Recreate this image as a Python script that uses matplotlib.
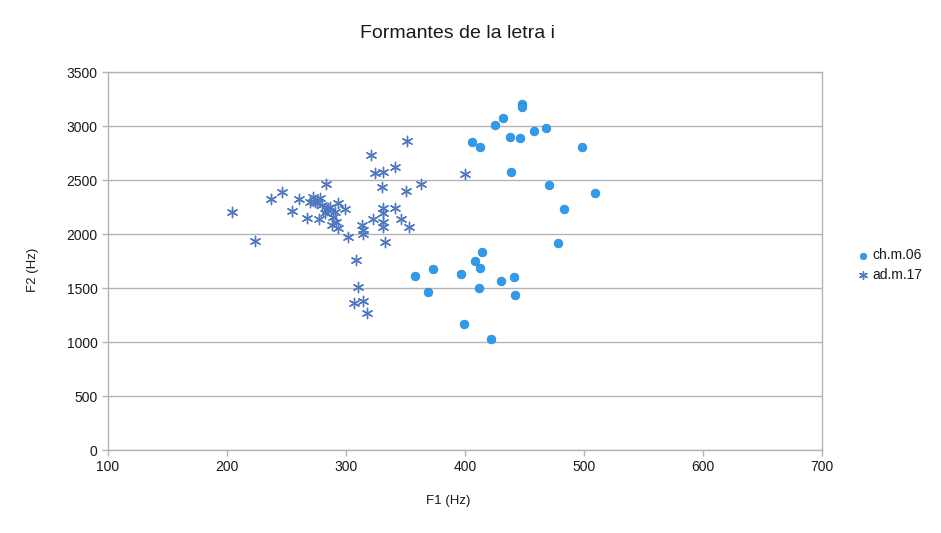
import matplotlib
matplotlib.use("Agg")
import matplotlib.pyplot as plt

plt.rcParams['font.family'] = ['Liberation Sans', 'DejaVu Sans']

title = "Formantes de la letra i"
xlabel = "F1 (Hz)"
ylabel = "F2 (Hz)"
series_names = ["ch.m.06", "ad.m.17"]

ch_f1 = [448, 448, 432, 425, 438, 446, 458, 468, 406, 413, 498, 439, 471, 509,
         483, 478, 414, 408, 413, 373, 358, 397, 369, 412, 430, 441, 442, 399, 422]
ch_f2 = [3200, 3180, 3071, 3006, 2898, 2886, 2951, 2984, 2849, 2809, 2809, 2574,
         2454, 2377, 2235, 1920, 1833, 1750, 1682, 1673, 1611, 1633, 1460, 1500,
         1565, 1599, 1435, 1164, 1025]

ad_f1 = [204.5, 223.8, 237, 246.3, 260.6, 254.8, 267.6, 277, 272, 278, 274, 279.5,
         283.7, 286.6, 290.8, 293.5, 299.5, 289, 288, 293.5, 292, 301.3, 282.4,
         282.9, 313.5, 314, 314.5, 323, 331, 341.3, 331.3, 331.3, 331.3, 346, 353,
         332.5, 330, 324.2, 331.3, 341, 320.6, 351.4, 350, 363, 400.4, 308.6, 310.3,
         314, 306.9, 317.6, 276, 285, 270]
ad_f2 = [2207, 1938, 2324, 2389, 2322, 2214, 2151, 2136, 2340, 2335, 2299, 2269,
         2222, 2253, 2207, 2284, 2229, 2160, 2083, 2052, 2114, 1975, 2191, 2466,
         2086, 2037, 2000, 2136, 2244, 2242, 2191, 2114, 2066, 2138, 2063, 1929,
         2438, 2562, 2570, 2617, 2734, 2864, 2400, 2460, 2556, 1756, 1506, 1380,
         1364, 1266, 2290, 2240, 2300]

xticks = [100, 200, 300, 400, 500, 600, 700]
yticks = [0, 500, 1000, 1500, 2000, 2500, 3000, 3500]

fig = plt.figure(figsize=(9.41, 5.33), dpi=100)
ax = fig.add_axes([108/941, 1-450/533, (822-108)/941, (450-72)/533])

gray = '#b3b3b3'
ax.scatter(ch_f1, ch_f2, s=40, color='#2d9cef', edgecolors='#2a7fc4', linewidths=0.4,
           label=series_names[0], zorder=3)
ax.scatter(ad_f1, ad_f2, s=55, marker=(6, 2, 0), color='#4f78bf', linewidths=1.0,
           label=series_names[1], zorder=3)

ax.set_xlim(100, 700)
ax.set_ylim(0, 3500)
ax.set_xticks(xticks)
ax.set_yticks(yticks)
ax.yaxis.grid(True, color=gray, linewidth=1)
ax.set_axisbelow(True)
for sp in ax.spines.values():
    sp.set_color(gray)
    sp.set_linewidth(1)
ax.tick_params(axis='both', colors=gray, length=4, width=1, labelsize=10,
               labelcolor='#1a1a1a')

fig.text(458/941, 1-34/533, title, ha='center', va='center', fontsize=14,
         color='#1a1a1a')
fig.text(448/941, 1-501/533, xlabel, ha='center', va='center', fontsize=9.5,
         color='#1a1a1a')
fig.text(33/941, 1-270/533, ylabel, ha='center', va='center', fontsize=9.5,
         rotation=90, color='#1a1a1a')

leg = ax.legend(loc='center left', bbox_to_anchor=(842/941, 1-265/533),
                bbox_transform=fig.transFigure, frameon=False, fontsize=10,
                handletextpad=0.1, labelspacing=0.4, markerscale=0.75,
                handlelength=1.2)
for t in leg.get_texts():
    t.set_color('#1a1a1a')

fig.savefig("out.png", dpi=100)
